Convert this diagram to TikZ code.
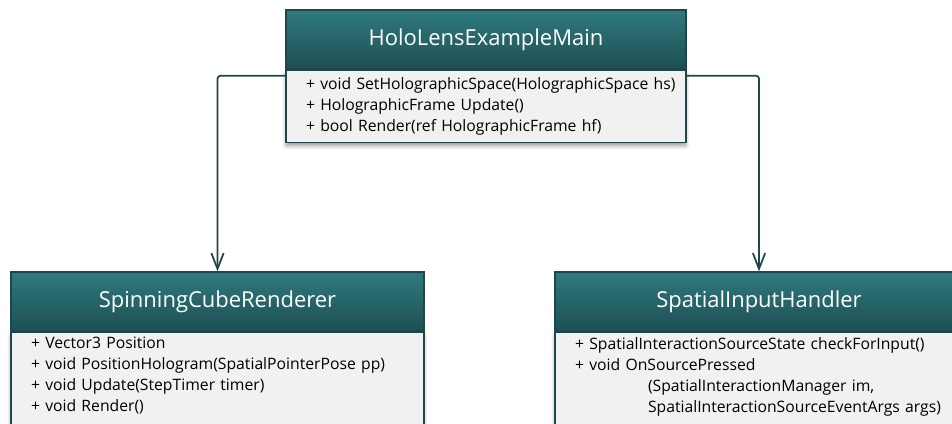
\documentclass[tikz,border=0pt]{standalone}
\usepackage{fontspec}
\setmainfont{Open Sans}
\usetikzlibrary{positioning}
\usetikzlibrary{arrows.meta}
\usetikzlibrary{shadows.blur}

\definecolor{headtop}{HTML}{2F7A7E}
\definecolor{headbot}{HTML}{1E4F53}
\definecolor{edgecol}{HTML}{1F474B}
\definecolor{bodyfill}{HTML}{F1F1F1}

\begin{document}
\begin{tikzpicture}[x=0.02cm,y=-0.02cm,
		head/.style={draw=edgecol, line width=0.8pt, top color=headtop, bottom color=headbot,
				text=white, font=\fontsize{12.5}{14}\selectfont, minimum height=1.18cm, inner sep=0pt},
		classbody/.style={draw=edgecol, line width=0.8pt, fill=bodyfill, align=left,
				font=\fontsize{8.95}{11.9}\selectfont, inner xsep=0.4cm, inner ysep=0.1cm,
				blur shadow={shadow xshift=0pt, shadow yshift=-2pt, shadow blur steps=6}},
		link/.style={draw=edgecol, line width=1pt, rounded corners=0.06cm,
				-{Straight Barb[length=9pt,width=7pt]}}]
	\clip (0,0) rectangle (952,423);

	% top class
	\node[head, minimum width=8cm] at (486,39.5) (mainhead) {HoloLensExampleMain};
	\node[classbody, below=0pt of mainhead, text width=7.2cm, minimum height=1.44cm] (mainbody)
	{\mbox{+ void SetHolographicSpace(HolographicSpace hs)}\\
		+ HolographicFrame Update()\\
		+ bool Render(ref HolographicFrame hf)};

	% left class
	\node[head, minimum width=8.26cm] at (217.5,301.5) (cubehead) {SpinningCubeRenderer};
	\node[classbody, below=0pt of cubehead, text width=7.46cm, text depth=2.2cm] (cubebody)
	{+ Vector3 Position\\
		+ void PositionHologram(SpatialPointerPose pp)\\
		+ void Update(StepTimer timer)\\
		+ void Render()};

	% right class
	\node[head, minimum width=8.16cm] at (759,301.5) (inputhead) {SpatialInputHandler};
	\node[classbody, below=0pt of inputhead, text width=7.36cm, text depth=2.2cm] (inputbody)
	{+ SpatialInteractionSourceState checkForInput()\\
		+ void OnSourcePressed\\
		\hspace*{1.46cm}(SpatialInteractionManager im,\\
		\hspace*{1.46cm}\mbox{SpatialInteractionSourceEventArgs args)}};

	\draw[link] ([yshift=-0.12cm]mainbody.north west) -| (cubehead.north);
	\draw[link] ([yshift=-0.12cm]mainbody.north east) -| (inputhead.north);
\end{tikzpicture}
\end{document}
